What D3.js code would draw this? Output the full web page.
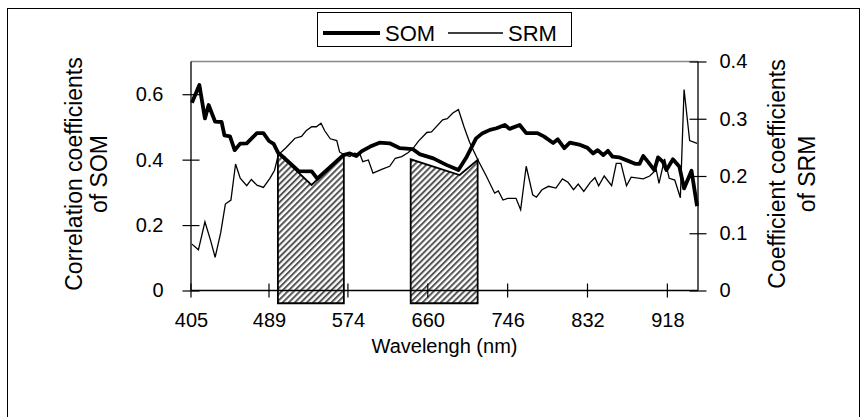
<!DOCTYPE html>
<html>
<head>
<meta charset="utf-8">
<script src="https://cdn.jsdelivr.net/npm/d3@7"></script>
<style>
  body { margin: 0; background: #fff; }
  text { font-family: "Liberation Sans", Arial, sans-serif; fill: #000; }
</style>
</head>
<body>
<svg id="chart" width="867" height="417"></svg>
<script>
// values (wavelength in nm)
var somWave = [406, 414, 420, 424, 431, 438, 441, 447, 452, 458, 465, 476, 483, 489, 494, 499, 506, 521, 535, 541,
               569, 576, 583, 589, 598, 608, 619, 630, 644, 651, 666, 680, 693, 702, 712, 719, 727, 734, 743, 748,
               759, 766, 778, 785, 795, 800, 807, 813, 823, 832, 838, 843, 849, 854, 859, 866, 875, 884, 888, 892,
               897, 904, 908, 913, 917, 924, 931, 936, 944, 950];
var somCorr = [0.574, 0.628, 0.526, 0.567, 0.516, 0.515, 0.474, 0.471, 0.429, 0.449, 0.450, 0.481, 0.481, 0.457, 0.448, 0.420, 0.404, 0.365, 0.364, 0.342,
               0.414, 0.419, 0.411, 0.426, 0.440, 0.452, 0.450, 0.435, 0.432, 0.417, 0.404, 0.384, 0.368, 0.409, 0.465, 0.481, 0.491, 0.496, 0.506, 0.494,
               0.506, 0.481, 0.481, 0.471, 0.451, 0.462, 0.435, 0.452, 0.446, 0.436, 0.419, 0.429, 0.414, 0.427, 0.409, 0.407, 0.397, 0.387, 0.387, 0.411,
               0.394, 0.368, 0.407, 0.394, 0.368, 0.401, 0.378, 0.312, 0.366, 0.258];

var srmWave = [406, 413, 420, 426, 431, 437, 442, 448, 453, 458, 465, 470, 476, 483, 490, 495, 499, 507, 517, 524,
               529, 535, 540, 545, 549, 555, 562, 565, 569, 576, 581, 587, 590, 596, 601, 611, 619, 625, 632, 639,
               644, 650, 659, 664, 676, 681, 687, 693, 699, 705, 714, 723, 732, 736, 741, 746, 755, 760, 766, 773,
               777, 783, 790, 798, 805, 811, 817, 822, 828, 835, 840, 844, 850, 858, 863, 868, 874, 879, 892, 899,
               906, 909, 915, 920, 926, 932, 936, 942, 950];
var srmCorr = [0.081, 0.071, 0.120, 0.088, 0.058, 0.101, 0.151, 0.158, 0.221, 0.196, 0.183, 0.194, 0.184, 0.180, 0.196, 0.210, 0.237, 0.249, 0.266, 0.269,
               0.279, 0.286, 0.286, 0.292, 0.279, 0.265, 0.262, 0.242, 0.238, 0.234, 0.240, 0.238, 0.225, 0.228, 0.205, 0.212, 0.217, 0.231, 0.234, 0.241,
               0.248, 0.261, 0.276, 0.277, 0.298, 0.300, 0.310, 0.316, 0.286, 0.259, 0.228, 0.200, 0.170, 0.174, 0.158, 0.161, 0.161, 0.141, 0.217, 0.167,
               0.163, 0.176, 0.182, 0.179, 0.195, 0.189, 0.176, 0.186, 0.173, 0.189, 0.197, 0.183, 0.200, 0.183, 0.222, 0.222, 0.183, 0.198, 0.195, 0.200,
               0.211, 0.187, 0.230, 0.196, 0.193, 0.162, 0.351, 0.262, 0.257];

// hatched bands: wavelength of left edge, dip, right edge, and their top values (SOM scale)
var bandWave = [[498.6, 534.8, 569.6], [641.6, 694.3, 713.7]];
var bandTop = [[0.420, 0.3225, 0.414], [0.401, 0.353, 0.399]];
var bandFloor = -0.039;

var xTicks = [405, 489, 574, 660, 746, 832, 918];
var leftTicks = [0, 0.2, 0.4, 0.6];
var rightTicks = [0, 0.1, 0.2, 0.3, 0.4];
var seriesNames = ['SOM', 'SRM'];

var svg = d3.select('#chart');
var plot = {left: 191, right: 698, top: 61.5, bottom: 290.5};

var x = d3.scaleLinear().domain([405, 951]).range([plot.left, plot.right]);
var yL = d3.scaleLinear().domain([0, 0.7]).range([plot.bottom, plot.top]);
var yR = d3.scaleLinear().domain([0, 0.4]).range([plot.bottom, plot.top]);

// outer frame (bottom edge falls outside the picture)
svg.append('rect')
    .attr('x', 7.5).attr('y', 8.5)
    .attr('width', 852).attr('height', 420)
    .attr('fill', 'none').attr('stroke', '#000').attr('stroke-width', 1);

// hatch for the bands
var defs = svg.append('defs');
var pat = defs.append('pattern')
    .attr('id', 'hatch')
    .attr('patternUnits', 'userSpaceOnUse')
    .attr('width', 4.3).attr('height', 4.3)
    .attr('patternTransform', 'rotate(45)');
pat.append('rect').attr('width', 4.3).attr('height', 4.3).attr('fill', '#fff');
pat.append('line')
    .attr('x1', 1).attr('y1', 0).attr('x2', 1).attr('y2', 4.3)
    .attr('stroke', '#555').attr('stroke-width', 2);

// plot area top edge
svg.append('line')
    .attr('x1', plot.left).attr('x2', plot.right)
    .attr('y1', plot.top).attr('y2', plot.top)
    .attr('stroke', '#888').attr('stroke-width', 1.3);

// bands
bandWave.forEach(function(w, i) {
    var t = bandTop[i];
    var pts = [[w[0], bandFloor], [w[0], t[0]], [w[1], t[1]], [w[2], t[2]], [w[2], bandFloor]];
    svg.append('path')
        .attr('d', d3.line().x(function(d) { return x(d[0]); }).y(function(d) { return yL(d[1]); })(pts) + 'Z')
        .attr('fill', 'url(#hatch)')
        .attr('stroke', '#000').attr('stroke-width', 1.8);
});

// axes
var xAxis = d3.axisBottom(x).tickValues(xTicks).tickSize(0).tickPadding(0);
var gx = svg.append('g').attr('transform', 'translate(0,' + plot.bottom + ')').call(xAxis);
gx.select('.domain').remove();
gx.selectAll('.tick line').remove();
gx.selectAll('.tick text')
    .attr('y', 36).attr('dy', 0)
    .style('font-size', '20px');
// cross ticks on x
svg.append('g').selectAll('line').data(xTicks).enter().append('line')
    .attr('x1', function(d) { return x(d); }).attr('x2', function(d) { return x(d); })
    .attr('y1', plot.bottom - 7).attr('y2', plot.bottom + 7)
    .attr('stroke', '#000').attr('stroke-width', 1.2);
svg.append('line')
    .attr('x1', plot.left).attr('x2', plot.right)
    .attr('y1', plot.bottom).attr('y2', plot.bottom)
    .attr('stroke', '#000').attr('stroke-width', 1.3);

var gl = svg.append('g').attr('transform', 'translate(' + plot.left + ',0)')
    .call(d3.axisLeft(yL).tickValues(leftTicks).tickSize(8.5).tickPadding(19).tickFormat(d3.format('')));
gl.selectAll('.tick line').attr('x2', 8.5).attr('x1', -8.5).attr('stroke-width', 1.2);
gl.select('.domain').attr('d', 'M0,' + plot.top + 'V' + plot.bottom).attr('stroke-width', 1.3);
gl.selectAll('.tick text').style('font-size', '20px');

var gr = svg.append('g').attr('transform', 'translate(' + plot.right + ',0)')
    .call(d3.axisRight(yR).tickValues(rightTicks).tickSize(8.5).tickPadding(13).tickFormat(d3.format('')));
gr.selectAll('.tick line').attr('x1', -8.5).attr('x2', 8.5).attr('stroke-width', 1.2);
gr.select('.domain').attr('d', 'M0,' + plot.top + 'V' + plot.bottom).attr('stroke-width', 1.3);
gr.selectAll('.tick text').style('font-size', '20px');
svg.selectAll('.tick text').attr('fill', '#000').style('font-family', '"Liberation Sans", Arial, sans-serif');

// series
var somLine = d3.line()
    .x(function(d, i) { return x(somWave[i]); })
    .y(function(d) { return yL(d); });
var srmLine = d3.line()
    .x(function(d, i) { return x(srmWave[i]); })
    .y(function(d) { return yR(d); });
svg.append('path').attr('d', srmLine(srmCorr))
    .attr('fill', 'none').attr('stroke', '#000').attr('stroke-width', 1.3).attr('stroke-linejoin', 'miter');
svg.append('path').attr('d', somLine(somCorr))
    .attr('fill', 'none').attr('stroke', '#000').attr('stroke-width', 3.8).attr('stroke-linejoin', 'round');

// axis titles
svg.append('text').attr('x', (plot.left + plot.right) / 2).attr('y', 353)
    .attr('text-anchor', 'middle').style('font-size', '20px').text('Wavelengh (nm)');

var midY = 174;
[['Correlation coefficients', 82], ['of SOM', 107]].forEach(function(l) {
    svg.append('text')
        .attr('transform', 'translate(' + l[1] + ',' + midY + ') rotate(-90)')
        .attr('text-anchor', 'middle').style('font-size', '23px').text(l[0]);
});
[['Coefficient coefficients', 785], ['of SRM', 815]].forEach(function(l) {
    svg.append('text')
        .attr('transform', 'translate(' + l[1] + ',' + midY + ') rotate(-90)')
        .attr('text-anchor', 'middle').style('font-size', '23px').text(l[0]);
});

// legend
var lg = svg.append('g');
lg.append('rect').attr('x', 317.5).attr('y', 12.5).attr('width', 254).attr('height', 34)
    .attr('fill', '#fff').attr('stroke', '#000').attr('stroke-width', 1);
var legendItems = [
    {name: seriesNames[0], x0: 323, x1: 380, tx: 385, w: 3.8},
    {name: seriesNames[1], x0: 448, x1: 503, tx: 508, w: 1.3}
];
legendItems.forEach(function(it) {
    lg.append('line').attr('x1', it.x0).attr('x2', it.x1).attr('y1', 33).attr('y2', 33)
        .attr('stroke', '#000').attr('stroke-width', it.w);
    lg.append('text').attr('x', it.tx).attr('y', 40.5).style('font-size', '22px').text(it.name);
});
</script>
</body>
</html>
